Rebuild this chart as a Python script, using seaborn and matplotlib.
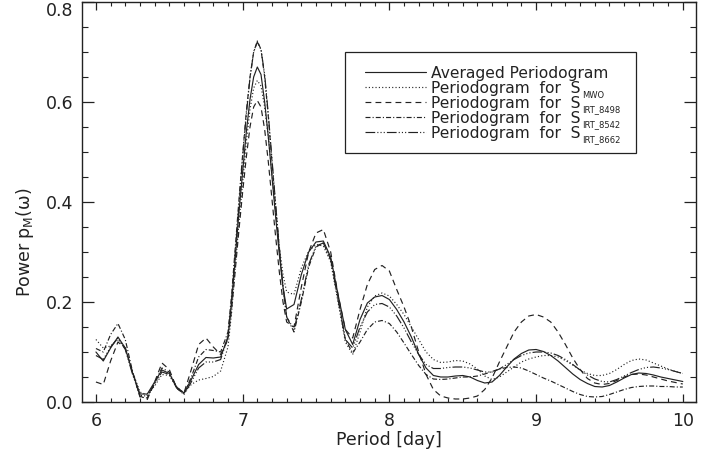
import numpy as np
import pandas as pd
import matplotlib
matplotlib.use("Agg")
import matplotlib.pyplot as plt
import matplotlib.transforms as mtransforms
from matplotlib.patches import Rectangle
import seaborn as sns
from matplotlib.ticker import MultipleLocator

# ---------------- data ----------------
period = [6.00, 6.05, 6.10, 6.15, 6.20, 6.25, 6.30, 6.35, 6.40, 6.45,
          6.50, 6.55, 6.60, 6.65, 6.70, 6.75, 6.80, 6.85, 6.90, 6.925,
          6.95, 6.975, 7.00, 7.025, 7.05, 7.075, 7.10, 7.125, 7.15, 7.175,
          7.20, 7.225, 7.25, 7.275, 7.30, 7.35, 7.40, 7.45, 7.50, 7.55,
          7.60, 7.65, 7.70, 7.75, 7.80, 7.85, 7.90, 7.95, 8.00, 8.05,
          8.10, 8.15, 8.20, 8.25, 8.30, 8.35, 8.40, 8.45, 8.50, 8.55,
          8.60, 8.65, 8.70, 8.75, 8.80, 8.85, 8.90, 8.95, 9.00, 9.05,
          9.10, 9.15, 9.20, 9.25, 9.30, 9.35, 9.40, 9.45, 9.50, 9.55,
          9.60, 9.65, 9.70, 9.75, 9.80, 9.85, 9.90, 9.95, 10.00]

averaged = [0.100, 0.082, 0.108, 0.130, 0.108, 0.058, 0.016, 0.016, 0.040, 0.064,
            0.057, 0.030, 0.018, 0.045, 0.075, 0.089, 0.088, 0.090, 0.130, 0.200,
            0.290, 0.380, 0.460, 0.540, 0.605, 0.650, 0.670, 0.655, 0.600, 0.530,
            0.450, 0.370, 0.295, 0.230, 0.186, 0.195, 0.255, 0.300, 0.320, 0.322,
            0.290, 0.215, 0.145, 0.115, 0.165, 0.198, 0.210, 0.213, 0.205, 0.185,
            0.160, 0.130, 0.095, 0.068, 0.053, 0.050, 0.050, 0.052, 0.053, 0.050,
            0.043, 0.038, 0.040, 0.053, 0.070, 0.086, 0.097, 0.104, 0.105, 0.101,
            0.093, 0.082, 0.069, 0.056, 0.045, 0.037, 0.031, 0.030, 0.033, 0.040,
            0.048, 0.055, 0.058, 0.057, 0.054, 0.050, 0.047, 0.044, 0.041]

s_mwo = [0.125, 0.108, 0.112, 0.125, 0.108, 0.060, 0.020, 0.014, 0.032, 0.055,
         0.053, 0.030, 0.018, 0.035, 0.044, 0.047, 0.051, 0.062, 0.110, 0.180,
         0.270, 0.360, 0.440, 0.520, 0.585, 0.628, 0.643, 0.632, 0.590, 0.530,
         0.455, 0.380, 0.310, 0.255, 0.220, 0.215, 0.268, 0.302, 0.315, 0.312,
         0.280, 0.200, 0.120, 0.095, 0.140, 0.190, 0.212, 0.218, 0.212, 0.195,
         0.175, 0.150, 0.125, 0.100, 0.085, 0.079, 0.080, 0.083, 0.082, 0.076,
         0.066, 0.052, 0.045, 0.050, 0.060, 0.070, 0.080, 0.086, 0.090, 0.093,
         0.093, 0.090, 0.083, 0.074, 0.064, 0.057, 0.053, 0.053, 0.057, 0.065,
         0.075, 0.083, 0.086, 0.084, 0.078, 0.072, 0.066, 0.061, 0.057]

s_8498 = [0.040, 0.035, 0.082, 0.120, 0.108, 0.060, 0.012, 0.005, 0.040, 0.078,
          0.065, 0.028, 0.018, 0.065, 0.115, 0.128, 0.110, 0.095, 0.125, 0.185,
          0.265, 0.345, 0.420, 0.490, 0.550, 0.590, 0.603, 0.590, 0.545, 0.480,
          0.405, 0.330, 0.260, 0.200, 0.160, 0.150, 0.230, 0.300, 0.338, 0.345,
          0.300, 0.215, 0.145, 0.128, 0.185, 0.235, 0.265, 0.273, 0.262, 0.225,
          0.190, 0.150, 0.100, 0.055, 0.025, 0.012, 0.008, 0.006, 0.006, 0.008,
          0.012, 0.025, 0.048, 0.080, 0.110, 0.140, 0.160, 0.172, 0.175, 0.170,
          0.160, 0.140, 0.115, 0.088, 0.065, 0.047, 0.038, 0.035, 0.037, 0.043,
          0.050, 0.055, 0.056, 0.054, 0.050, 0.046, 0.042, 0.039, 0.036]

s_8542 = [0.107, 0.100, 0.135, 0.157, 0.125, 0.060, 0.010, 0.008, 0.038, 0.068,
          0.060, 0.028, 0.016, 0.050, 0.090, 0.105, 0.103, 0.100, 0.140, 0.215,
          0.310, 0.405, 0.495, 0.580, 0.650, 0.700, 0.722, 0.705, 0.650, 0.570,
          0.480, 0.390, 0.305, 0.230, 0.170, 0.140, 0.200, 0.270, 0.310, 0.318,
          0.285, 0.210, 0.125, 0.098, 0.120, 0.145, 0.160, 0.163, 0.157, 0.140,
          0.118, 0.095, 0.073, 0.055, 0.046, 0.045, 0.046, 0.048, 0.050, 0.050,
          0.052, 0.056, 0.061, 0.066, 0.069, 0.070, 0.068, 0.062, 0.055, 0.048,
          0.042, 0.035, 0.028, 0.021, 0.015, 0.011, 0.010, 0.011, 0.015, 0.020,
          0.025, 0.029, 0.031, 0.032, 0.032, 0.031, 0.031, 0.030, 0.030]

s_8662 = [0.093, 0.085, 0.110, 0.128, 0.105, 0.055, 0.013, 0.012, 0.036, 0.060,
          0.055, 0.028, 0.015, 0.040, 0.068, 0.080, 0.080, 0.085, 0.130, 0.205,
          0.300, 0.395, 0.490, 0.575, 0.648, 0.700, 0.720, 0.705, 0.655, 0.575,
          0.485, 0.395, 0.310, 0.230, 0.170, 0.145, 0.205, 0.275, 0.312, 0.318,
          0.285, 0.205, 0.125, 0.108, 0.150, 0.180, 0.195, 0.197, 0.190, 0.172,
          0.148, 0.120, 0.095, 0.075, 0.067, 0.067, 0.069, 0.070, 0.070, 0.068,
          0.064, 0.060, 0.060, 0.066, 0.075, 0.085, 0.093, 0.098, 0.100, 0.100,
          0.098, 0.093, 0.085, 0.075, 0.064, 0.054, 0.046, 0.041, 0.040, 0.045,
          0.052, 0.059, 0.065, 0.069, 0.070, 0.068, 0.065, 0.061, 0.057]

labels = ["Averaged Periodogram",
          "Periodogram  for  S",
          "Periodogram  for  S",
          "Periodogram  for  S",
          "Periodogram  for  S"]
subscripts = ["", "MWO", "IRT_8498", "IRT_8542", "IRT_8662"]

x_ticks = [6, 7, 8, 9, 10]
y_ticks = [0.0, 0.2, 0.4, 0.6, 0.8]

# ---------------- style ----------------
sns.set_theme(style="white")
plt.rcParams["font.family"] = ["DejaVu Sans"]
plt.rcParams["lines.scale_dashes"] = False
plt.rcParams["mathtext.default"] = "regular"

ink = "#222222"
styles = [
    "-",
    (0, (0.8, 1.6)),
    (0, (4.2, 3.0)),
    (0, (3.6, 1.5, 0.8, 1.5)),
    (0, (7.0, 1.5, 0.8, 1.5, 0.8, 1.5, 0.8, 1.5)),
]
series = [averaged, s_mwo, s_8498, s_8542, s_8662]

fig = plt.figure(figsize=(7.18, 4.61), dpi=100)
ax = fig.add_axes([82 / 718, (461 - 402) / 461, (696 - 82) / 718, 400 / 461])

for i, (vals, ls) in enumerate(zip(series, styles)):
    df = pd.DataFrame({"period": period, "power": vals})
    sns.lineplot(data=df, x="period", y="power", ax=ax, color=ink,
                 linewidth=0.85, linestyle=ls, label=f"s{i}", sort=False,
                 estimator=None)

ax.set_xlim(5.905, 10.09)
ax.set_ylim(0.0, 0.8)
ax.set_xticks(x_ticks)
ax.set_xticklabels([str(t) for t in x_ticks])
ax.set_yticks(y_ticks)
ax.set_yticklabels([f"{t:.1f}" for t in y_ticks])
ax.xaxis.set_minor_locator(MultipleLocator(0.1))
ax.yaxis.set_minor_locator(MultipleLocator(0.05))

ax.tick_params(axis="x", which="major", direction="in", length=6, width=0.9,
               top=True, bottom=True, color=ink, labelsize=12.5, pad=7,
               labelcolor=ink)
ax.tick_params(axis="x", which="minor", direction="in", length=3, width=0.8,
               top=True, bottom=True, color=ink)
ax.tick_params(axis="y", which="major", direction="in", length=8.6, width=0.9,
               left=True, right=True, color=ink, labelsize=12.5, pad=6,
               labelcolor=ink)
ax.tick_params(axis="y", which="minor", direction="in", length=4.3, width=0.8,
               left=True, right=True, color=ink)
for sp in ax.spines.values():
    sp.set_color(ink)
    sp.set_linewidth(1.0)

# top y tick label sits a little below its tick (as in the reference)
top_lab = ax.get_yticklabels()[-1]
top_lab.set_transform(top_lab.get_transform() +
                      mtransforms.ScaledTranslation(0, -7 / 100, fig.dpi_scale_trans))

ax.set_xlabel("Period [day]", fontsize=12.5, color=ink, labelpad=1)
ax.set_ylabel(r"Power p$_{\mathregular{M}}$($\omega$)", fontsize=12.5, color=ink)
ax.yaxis.set_label_coords(-0.075, 0.40)

# legend: frame drawn as a rectangle, entries via matplotlib legend
ax.add_patch(Rectangle((0.428, 0.6225), 0.474, 0.2525, transform=ax.transAxes,
                       fill=True, facecolor="white", edgecolor=ink,
                       linewidth=0.9, zorder=4))
handles = ax.get_lines()[:5]
leg = ax.legend(handles, labels, loc="upper left",
                bbox_to_anchor=(0.461, 0.8405),
                fontsize=11.2, handlelength=3.95, handletextpad=0.3,
                labelspacing=0.0, borderpad=0.0, borderaxespad=0.0,
                frameon=False)
leg.set_zorder(5)
for t, sub in zip(leg.get_texts(), subscripts):
    t.set_color(ink)
    if sub:
        ax.annotate(sub, xy=(1, 0), xycoords=t, xytext=(0.8, 3.8),
                    textcoords="offset points", ha="left", va="top",
                    fontsize=6.0, color=ink, zorder=6,
                    annotation_clip=False)

fig.savefig("out.png", dpi=100)
